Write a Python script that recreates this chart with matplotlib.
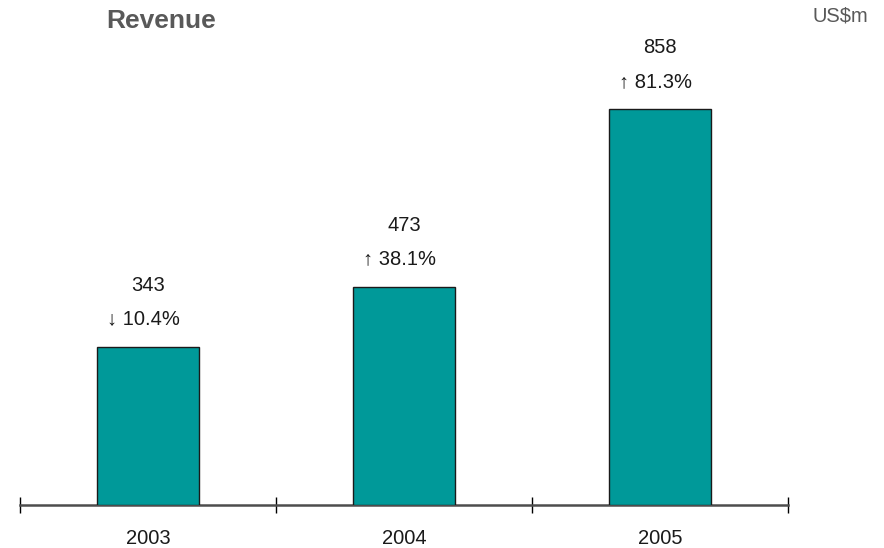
import matplotlib
matplotlib.use("Agg")
import matplotlib.pyplot as plt

years = ["2003", "2004", "2005"]
revenue = [343, 473, 858]
growth_labels = ["\u2193 10.4%", "\u2191 38.1%", "\u2191 81.3%"]

plt.rcParams['font.family'] = ['Liberation Sans', 'DejaVu Sans']

W, H = 884, 548
fig = plt.figure(figsize=(W / 100, H / 100), dpi=100)

px_per_unit = 0.4615
ymax = 1050
ax_h = ymax * px_per_unit
ax_left, ax_right, ax_bottom = 20, 788, 505
ax = fig.add_axes([ax_left / W, (H - ax_bottom) / H, (ax_right - ax_left) / W, ax_h / H])

x = list(range(len(years)))
ax.bar(x, revenue, width=0.4, color="#009999", edgecolor="#1a1a1a", linewidth=1.0, zorder=3)

ax.set_xlim(-0.5, len(years) - 0.5)
ax.set_ylim(0, ymax)

for s in ["top", "right", "left"]:
    ax.spines[s].set_visible(False)
ax.spines["bottom"].set_color("#4d4d4d")
ax.spines["bottom"].set_linewidth(1.8)
ax.set_yticks([])

ax.set_xticks([i - 0.5 for i in range(len(years) + 1)])
ax.set_xticklabels([])
ax.tick_params(axis="x", direction="inout", length=11, width=1.0, color="black")

fs = 14.5
for xi, yr in zip(x, years):
    ax.annotate(yr, xy=(xi, 0), xytext=(0, -24), textcoords="offset points",
                ha="center", va="center", fontsize=fs, color="#1a1a1a",
                annotation_clip=False)

for xi, v, g in zip(x, revenue, growth_labels):
    ax.annotate(str(v), xy=(xi, v), xytext=(0, 44), textcoords="offset points",
                ha="center", va="center", fontsize=fs, color="#1a1a1a")
    ax.annotate(g, xy=(xi, v), xytext=(-3, 20), textcoords="offset points",
                ha="center", va="center", fontsize=fs, color="#1a1a1a")

fig.text(161 / W, 1 - 21 / H, "Revenue", ha="center", va="center",
         fontsize=19, fontweight="bold", color="#595959")
fig.text(840 / W, 1 - 16 / H, "US$m", ha="center", va="center",
         fontsize=14.5, color="#595959")

fig.savefig("out.png", dpi=100)
